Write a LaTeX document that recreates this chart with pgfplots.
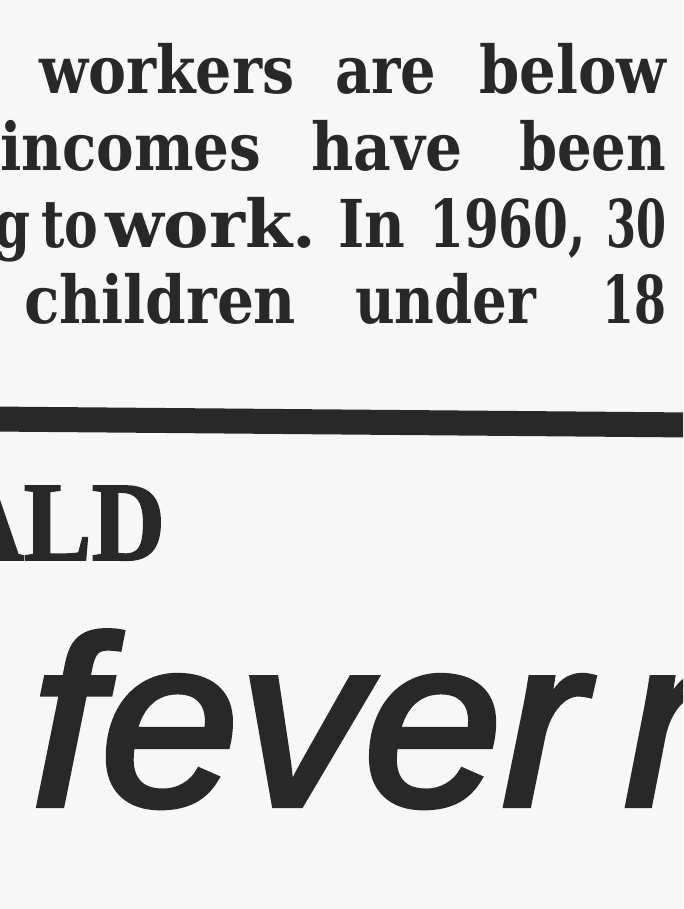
\documentclass[border=0pt]{standalone}
\usepackage{fontspec}
\usepackage{graphicx}
\usepackage{pgfplots}
\pgfplotsset{compat=1.18}
\setmainfont{DejaVu Serif Condensed}
\newfontfamily\mastfont{Liberation Serif}[BoldFeatures={FakeBold=1.5}]
\newfontfamily\headsans{Liberation Sans}[ItalicFeatures={FakeBold=2.5}]
\definecolor{ink}{HTML}{282828}
\definecolor{paper}{HTML}{F7F7F7}
% word placed at (x, baseline) stretched to a measured width
\newcommand{\wrd}[4]{\node[anchor=base west,inner sep=0pt,text=ink] at (axis cs:#1,#2) {\resizebox{#3pt}{\height}{#4}};}
\begin{document}
\begin{tikzpicture}
\path[use as bounding box, clip] (0,0) rectangle (683pt,909pt);
\fill[paper] (0,0) rectangle (683pt,909pt);
\begin{axis}[
  at={(0,0)}, anchor=south west,
  scale only axis, width=683pt, height=909pt,
  xmin=0, xmax=683, ymin=0, ymax=909, y dir=reverse,
  hide axis, clip=true,
]
% the thick horizontal rule
\addplot[ink, line width=25pt] coordinates {(-10,419) (693,425)};
% body text, bold serif, justified column
\fontsize{66pt}{66pt}\selectfont\bfseries
\wrd{39}{94}{255}{workers}
\wrd{335}{94}{101}{are}
\wrd{479}{94}{187}{below}
\wrd{0}{171}{261}{incomes}
\wrd{311}{171}{151}{have}
\wrd{519}{171}{147}{been}
\wrd{-6}{248}{36}{g}
\wrd{41}{248}{57}{to}
\wrd{105}{248}{211}{work.}
\wrd{338}{248}{67}{In}
\wrd{429}{248}{157}{1960,}
\wrd{606}{248}{60}{30}
\wrd{24}{324}{272}{children}
\wrd{355}{324}{181}{under}
\wrd{602}{324}{64}{18}
% masthead fragment
\node[anchor=base west,inner sep=0pt,text=ink] at (axis cs:-50,560) {\mastfont\fontsize{113pt}{113pt}\selectfont\bfseries\resizebox{215pt}{\height}{ALD}};
% headline fragment, sans oblique, medium weight
\node[anchor=base west,inner sep=0pt,text=ink] at (axis cs:31,805) {\headsans\mdseries\itshape\fontsize{240pt}{240pt}\selectfont\resizebox{554pt}{\height}{fever}};
\node[anchor=base west,inner sep=0pt,text=ink] at (axis cs:624,805) {\headsans\mdseries\itshape\fontsize{240pt}{240pt}\selectfont r};
\end{axis}
\end{tikzpicture}
\end{document}
